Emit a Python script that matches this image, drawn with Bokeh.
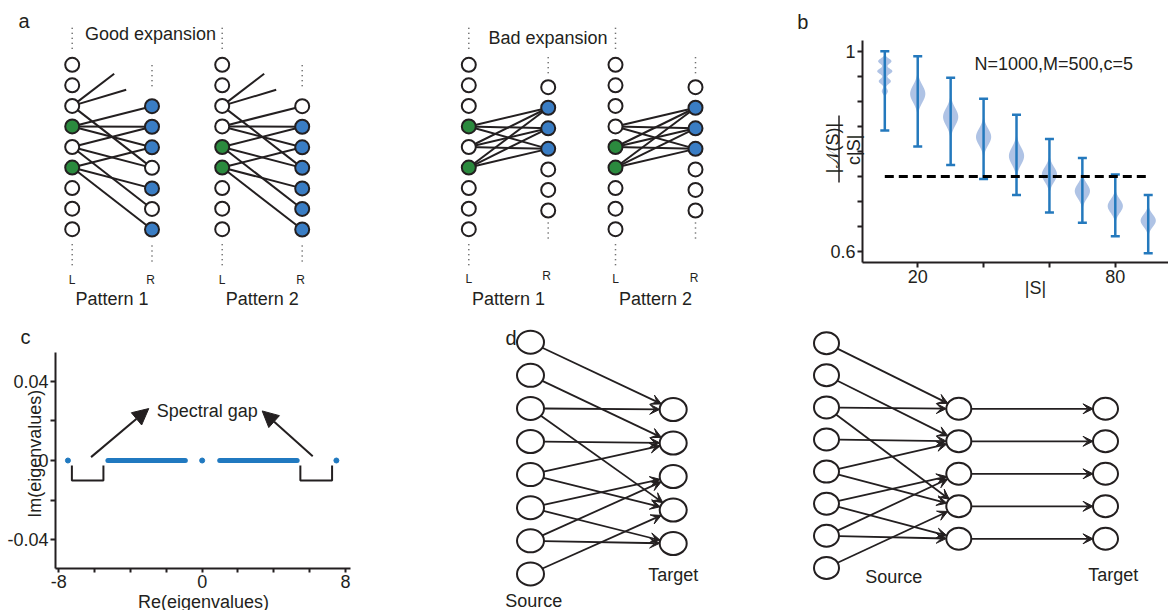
import numpy as np
from bokeh.core.properties import value
from bokeh.embed import file_html
from bokeh.layouts import column
from bokeh.models import (Arrow, ColumnDataSource, FixedTicker, NormalHead,
                          PrintfTickFormatter, Range1d, VeeHead)
from bokeh.plotting import figure
from bokeh.resources import INLINE

# ---------------- data ----------------
# (a) bipartite expanders: 9 left / 7 right nodes shown, edges as (left, right)
n_left, n_right = 9, 7
good_edges = [(2, 3), (3, 0), (3, 1), (3, 2), (4, 1), (4, 3), (4, 5), (5, 2), (5, 4), (5, 6)]
bad_edges = [(3, 1), (3, 2), (3, 3), (4, 1), (4, 2), (4, 3), (5, 1), (5, 2), (5, 3)]
pattern_names = ["Pattern 1", "Pattern 2"]
pattern_active = [[3, 5], [4, 5]]

# (b) expansion ratio |N(S)| / (c|S|) versus |S|
set_sizes = [10, 20, 30, 40, 50, 60, 70, 80, 90]
ratio_max = [1.0, 0.99, 0.947, 0.905, 0.873, 0.825, 0.787, 0.754, 0.713]
ratio_min = [0.842, 0.81, 0.773, 0.745, 0.713, 0.678, 0.658, 0.631, 0.597]
ratio_modes = [[0.98, 0.96, 0.94, 0.92], [0.915], [0.869], [0.829], [0.791],
               [0.754], [0.721], [0.691], [0.662]]
mode_weights = [[0.88, 1.0, 0.8, 0.4], [1.0], [1.0], [1.0], [1.0],
                [1.0], [1.0], [1.0], [1.0]]
ratio_bandwidth = [0.0055, 0.0174, 0.0174, 0.0165, 0.0174, 0.015, 0.0145, 0.0135, 0.0125]
expansion_bound = 0.75
params_text = "N=1000,M=500,c=5"

# (c) spectrum: isolated eigenvalues and the two bulk bands (real axis)
eig_outliers = [-7.49, 0.0, 7.49]
bulk_lo = [-5.26, 0.98]
bulk_hi = [-0.94, 5.30]

# (d) source -> target wiring, edges as (source, target)
n_source, n_target = 8, 5
wiring = [(0, 0), (1, 1), (2, 0), (2, 3), (3, 1), (4, 1), (4, 3),
          (5, 2), (5, 4), (6, 2), (6, 4), (7, 3)]

# ---------------- style ----------------
FONT = "Liberation Sans"
INK = "#231f20"
NODE_BLUE = "#3a7dc4"
NODE_GREEN = "#2b8a3e"
VIOLIN = "#afc3e5"
WHISKER = "#2479bd"
EIG = "#2079c0"
PAGE_W, PAGE_H = 1168, 610

# full-page sheet whose data units are page pixels (y grows downward);
# the two plotted panels are laid over it
sheet = figure(width=PAGE_W, height=PAGE_H, x_range=Range1d(0, PAGE_W),
               y_range=Range1d(PAGE_H, 0), toolbar_location=None, output_backend="svg",
               min_border=0, x_axis_location=None, y_axis_location=None,
               outline_line_color=None, frame_align=False)
sheet.grid.visible = False


def put_text(x, y, s, size="18px", align="center", angle=0.0):
    sheet.text(x=[x], y=[y], text=[s], text_font=value(FONT), text_font_size=size,
               text_align=align, text_baseline="alphabetic", text_color=INK, angle=angle)


def style_axes(p):
    for ax in (p.xaxis[0], p.yaxis[0]):
        ax.axis_line_width = 2
        ax.axis_line_color = INK
        ax.major_tick_line_width = 2
        ax.minor_tick_line_width = 2
        ax.major_tick_line_color = INK
        ax.minor_tick_line_color = INK
        ax.major_tick_in = 0
        ax.minor_tick_in = 0
        ax.major_tick_out = 5
        ax.minor_tick_out = 5
        ax.major_label_text_font = FONT
        ax.major_label_text_font_size = "18px"
        ax.major_label_text_color = INK
        ax.major_label_standoff = 2
        ax.formatter = PrintfTickFormatter(format="%g")
    p.grid.visible = False


# ================= panel a =================
L_TOP, ROW = 64.3, 20.55
diagrams = [
    dict(xl=71.7, xr=151.5, r_top=105.7, edges=good_edges, pat=0, stubs=True,
         r_dots=(-41, -16, 16, 34), lab_y=(279, 279)),
    dict(xl=221.7, xr=301.7, r_top=105.7, edges=good_edges, pat=1, stubs=True,
         r_dots=(-41, -16, 16, 34), lab_y=(279, 279)),
    dict(xl=468.3, xr=547.7, r_top=86.7, edges=bad_edges, pat=0, stubs=False,
         r_dots=(-30, -12, 12, 30), lab_y=(278, 275.5)),
    dict(xl=615.0, xr=695.0, r_top=86.7, edges=bad_edges, pat=1, stubs=False,
         r_dots=(-30, -12, 12, 30), lab_y=(278, 277)),
]
for d in diagrams:
    xl, xr = d["xl"], d["xr"]
    yl = [L_TOP + i * ROW for i in range(n_left)]
    yr = [d["r_top"] + j * ROW for j in range(n_right)]
    e = d["edges"]
    # dotted continuation of both node columns
    ra, rb, rc, rdd = d["r_dots"]
    sheet.segment(x0=[xl, xl, xr, xr], y0=[yl[0] - 37, yl[-1] + 15, yr[0] + ra, yr[-1] + rc],
                  x1=[xl, xl, xr, xr], y1=[yl[0] - 14, yl[-1] + 36, yr[0] + rb, yr[-1] + rdd],
                  line_color="#444444", line_width=1.5, line_dash="1 4")
    sheet.segment(x0=[xl] * len(e), y0=[yl[a] for a, b in e],
                  x1=[xr] * len(e), y1=[yr[b] for a, b in e],
                  line_color=INK, line_width=2)
    if d["stubs"]:
        # edges leaving towards right nodes outside the drawn window
        sheet.segment(x0=[xl, xl], y0=[yl[2], yl[2]], x1=[xl + 42, xl + 54],
                      y1=[73.3, 89.3], line_color=INK, line_width=2)
    active = pattern_active[d["pat"]]
    reached = {b for a, b in e if a in active}
    sheet.scatter(x=[xl] * n_left, y=yl, size=14, line_color=INK, line_width=2,
                  fill_color=[NODE_GREEN if i in active else "white" for i in range(n_left)])
    sheet.scatter(x=[xr] * n_right, y=yr, size=14, line_color=INK, line_width=2,
                  fill_color=[NODE_BLUE if j in reached else "white" for j in range(n_right)])
    put_text(xl, d["lab_y"][0], "L", size="12px")
    put_text(xr - 1.5, d["lab_y"][1], "R", size="12px")
    put_text((xl + xr) / 2, 298.7, pattern_names[d["pat"]])

put_text(18, 20.7, "a", size="20px", align="left")
put_text(150, 33.3, "Good expansion")
put_text(547.5, 37.3, "Bad expansion")

# ================= panel b =================
B_X, B_W, B_H = 780, 388, 300
bx0, bx1 = 3.227, 96.16
by0, by1 = 0.5785, 1.0213
pb = figure(width=B_W, height=B_H, x_range=Range1d(bx0, bx1), y_range=Range1d(by0, by1),
            toolbar_location=None, output_backend="svg", min_border_left=82,
            min_border_right=0, min_border_top=40, min_border_bottom=38,
            outline_line_color=None, background_fill_alpha=0, border_fill_alpha=0,
            frame_align=False)
style_axes(pb)
pb.xaxis.ticker = FixedTicker(ticks=[20, 80], minor_ticks=[40, 60])
pb.yaxis.ticker = FixedTicker(ticks=[0.6, 1.0],
                              minor_ticks=[0.65, 0.7, 0.75, 0.8, 0.85, 0.9, 0.95])

b_ppx = 306 / (bx1 - bx0)
half_w = 7.6 / b_ppx
vx, vy = [], []
for x, modes, wts, bw in zip(set_sizes, ratio_modes, mode_weights, ratio_bandwidth):
    ys = np.linspace(min(modes) - 3.2 * bw, max(modes) + 3.2 * bw, 160)
    dens = sum(w * np.exp(-0.5 * ((ys - m) / bw) ** 2) for m, w in zip(modes, wts))
    half = half_w * dens / dens.max()
    vx.append(np.concatenate([x - half, (x + half)[::-1]]))
    vy.append(np.concatenate([ys, ys[::-1]]))
pb.patches(xs=vx, ys=vy, fill_color=VIOLIN, line_color=None)

cap = 4.5 / b_ppx
pb.segment(x0=set_sizes, y0=ratio_min, x1=set_sizes, y1=ratio_max,
           line_color=WHISKER, line_width=2.5)
pb.segment(x0=[s - cap for s in set_sizes] * 2, y0=ratio_min + ratio_max,
           x1=[s + cap for s in set_sizes] * 2, y1=ratio_min + ratio_max,
           line_color=WHISKER, line_width=2.5)
pb.line(x=[set_sizes[0], set_sizes[-1]], y=[expansion_bound] * 2,
        line_color="black", line_width=3, line_dash="9 5")
pb.text(x=[37.24], y=[0.9748], text=[params_text], text_font=value(FONT),
        text_font_size="18px", text_align="left", text_baseline="alphabetic",
        text_color=INK)

# labels of panel b sitting outside its frame
put_text(796.7, 21.7, "b", size="20px", align="left")
put_text(1035, 287.3, "|S|")
put_text(832.8, 147.5, "|\U0001D4A9(S)|", angle=np.pi / 2)
put_text(853, 149.2, "c|S|", angle=np.pi / 2)
sheet.segment(x0=[838.5], y0=[115], x1=[838.5], y1=[182], line_color=INK, line_width=1.5)

# ================= panel c =================
C_Y, C_W, C_H = 300, 460, 310
cx0, cx1 = -8.184, 8.278
cy0, cy1 = -0.05448, 0.05448
pc = figure(width=C_W, height=C_H, x_range=Range1d(cx0, cx1), y_range=Range1d(cy0, cy1),
            toolbar_location=None, output_backend="svg", min_border_left=55,
            min_border_right=110, min_border_top=52, min_border_bottom=42,
            outline_line_color=None, background_fill_alpha=0, border_fill_alpha=0,
            frame_align=False)
style_axes(pc)
pc.xaxis.ticker = FixedTicker(ticks=[-8, 0, 8], minor_ticks=[-6, -4, -2, 2, 4, 6])
pc.yaxis.ticker = FixedTicker(ticks=[-0.04, 0, 0.04], minor_ticks=[-0.02, 0.02])
pc.xaxis.major_tick_out = 4
pc.xaxis.minor_tick_out = 4

pc.segment(x0=bulk_lo, y0=[0, 0], x1=bulk_hi, y1=[0, 0], line_color=EIG,
           line_width=5, line_cap="round")
pc.scatter(x=eig_outliers, y=[0] * len(eig_outliers), size=5, color=EIG)

# brackets marking the gaps between the outliers and the bulk
gaps = [(eig_outliers[0] + 0.22, bulk_lo[0] - 0.25), (bulk_hi[1] + 0.18, eig_outliers[-1] - 0.24)]
pc.multi_line(xs=[[a, a, b, b] for a, b in gaps],
              ys=[[-0.0025, -0.0101, -0.0101, -0.0025]] * 2,
              line_color=INK, line_width=2)
for xs_, ys_, xe_, ye_ in [(-6.2, 0.0017, -2.98, 0.0262), (6.17, 0.0022, 3.35, 0.0250)]:
    pc.add_layout(Arrow(end=NormalHead(size=16, fill_color=INK, line_color=INK, line_width=1),
                        x_start=xs_, y_start=ys_, x_end=xe_, y_end=ye_,
                        line_color=INK, line_width=2))
pc.text(x=[0.28], y=[0.0252], text=["Spectral gap"], text_font=value(FONT),
        text_font_size="18px", text_align="center", text_baseline="alphabetic",
        text_color=INK)

put_text(20, 336.7, "c", size="20px", align="left")
put_text(203, 601, "Re(eigenvalues)")
put_text(34.5, 453.3, "Im(eigenvalues)", angle=np.pi / 2)

# ================= panel d =================
put_text(505, 337, "d", size="20px", align="left")


def rim(cx, cy, a, b, tx, ty):
    """Point where the ray from an ellipse centre towards (tx, ty) leaves it."""
    dx, dy = tx - cx, ty - cy
    t = 1.0 / np.sqrt((dx / a) ** 2 + (dy / b) ** 2)
    return cx + t * dx, cy + t * dy


def arrows(pairs, ea, eb, size=10):
    x0, y0, x1, y1 = [], [], [], []
    for (sx, sy), (tx, ty) in pairs:
        a0 = rim(sx, sy, ea, eb, tx, ty)
        a1 = rim(tx, ty, ea, eb, sx, sy)
        x0.append(a0[0]); y0.append(a0[1]); x1.append(a1[0]); y1.append(a1[1])
    src = ColumnDataSource(dict(x0=x0, y0=y0, x1=x1, y1=y1))
    sheet.add_layout(Arrow(end=VeeHead(size=size, fill_color=INK, line_color=INK, line_width=1),
                           x_start="x0", y_start="y0", x_end="x1", y_end="y1",
                           source=src, line_color=INK, line_width=1.8))


def nodes(xs, ys, w, h):
    sheet.ellipse(x=xs, y=ys, width=w, height=h, fill_color="white",
                  line_color=INK, line_width=2)


# left: sources wired straight onto the targets
s_x, s_y = 530, [341.7 + 33.1 * i for i in range(n_source)]
t_x, t_y = 672.7, [409 + 33.5 * j for j in range(n_target)]
arrows([((s_x, s_y[a]), (t_x, t_y[b])) for a, b in wiring], 13.5, 11.5)
nodes([s_x] * n_source, s_y, 27, 23)
nodes([t_x] * n_target, t_y, 27, 23)
put_text(533.3, 600, "Source")
put_text(672.7, 574.7, "Target")

# right: same wiring into a relay layer, then one-to-one onto the targets
s2_x, s2_y = 826, [342.7 + 32.1 * i for i in range(n_source)]
m_x, m_y = 958.3, [408.3 + 32.5 * j for j in range(n_target)]
t2_x = 1105
arrows([((s2_x, s2_y[a]), (m_x, m_y[b])) for a, b in wiring], 12.5, 11)
arrows([((m_x, m_y[j]), (t2_x, m_y[j])) for j in range(n_target)], 12.5, 11)
nodes([s2_x] * n_source, s2_y, 25, 22)
nodes([m_x] * n_target, m_y, 25, 22)
nodes([t2_x] * n_target, m_y, 25, 22)
put_text(893.3, 576, "Source")
put_text(1112.7, 574.7, "Target")

# overlay the plotted panels on the sheet: panel b pulled back up to the top
# right corner, panel c follows directly below it at the left edge
pb.margin = (-PAGE_H, 0, 0, B_X)
pc.margin = (0, 0, 0, 0)
page = column(sheet, pb, pc, spacing=0)

open("out.html", "w").write(file_html(page, INLINE, title="Expander figure"))
